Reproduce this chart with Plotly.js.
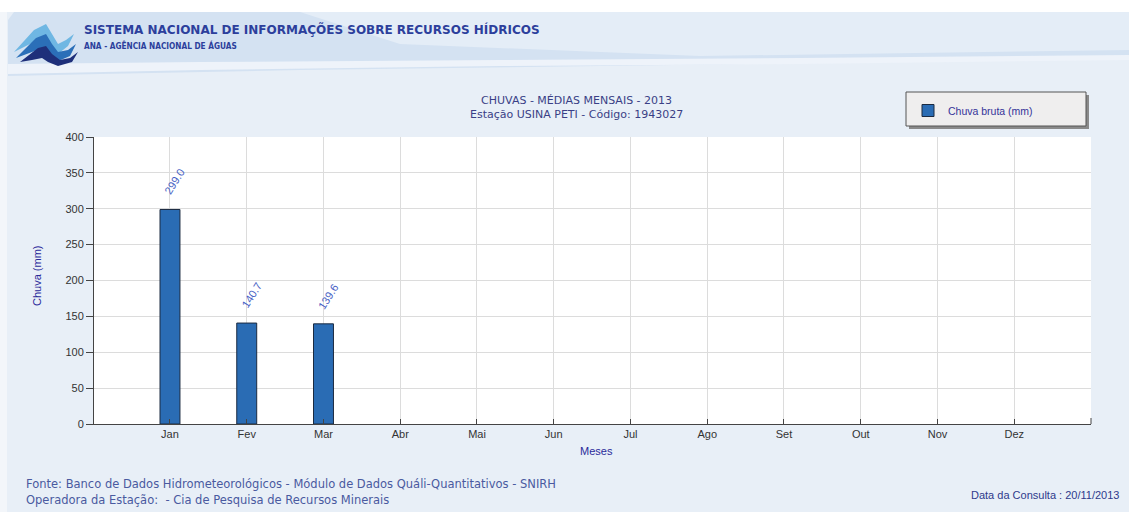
<!DOCTYPE html>
<html>
<head>
<meta charset="utf-8">
<script src="https://cdn.plot.ly/plotly-3.0.1.min.js"></script>
<style>html,body{margin:0;padding:0;background:#e8eff7;}#chart{width:1129px;height:512px;}</style>
</head>
<body>
<div id="chart"></div>
<script>
// ---- data ----
const months = ["Jan","Fev","Mar","Abr","Mai","Jun","Jul","Ago","Set","Out","Nov","Dez"];
const rainMonths = ["Jan","Fev","Mar"];
const rainValues = [299.0, 140.7, 139.6];
const yTicks = [0,50,100,150,200,250,300,350,400];
const seriesName = "Chuva bruta (mm)";
const chartTitle = "CHUVAS - MÉDIAS MENSAIS - 2013<br>Estação USINA PETI - Código: 1943027";
const headerLine1 = "SISTEMA NACIONAL DE INFORMAÇÕES SOBRE RECURSOS HÍDRICOS";
const headerLine2 = "ANA - AGÊNCIA NACIONAL DE ÁGUAS";
const footer1 = "Fonte: Banco de Dados Hidrometeorológicos - Módulo de Dados Quáli-Quantitativos - SNIRH";
const footer2 = "Operadora da Estação:  - Cia de Pesquisa de Recursos Minerais";
const consulta = "Data da Consulta : 20/11/2013";

// ---- layout helpers (pixel -> paper) ----
const W = 1129, H = 512, ML = 94, MR = 38, MT = 137, MB = 88;
const PW = W - ML - MR, PH = H - MT - MB;
const px = x => (x - ML) / PW;
const py = y => (H - MB - y) / PH;

const cond = "'DejaVu Sans Condensed', 'DejaVu Sans', sans-serif";
const dejavu = "'DejaVu Sans', sans-serif";
const narrow = "'Liberation Sans Narrow', 'Liberation Sans', Arial, sans-serif";

const trace = {
  type: "bar",
  x: rainMonths,
  y: rainValues,
  name: seriesName,
  width: 0.26,
  marker: {color: "#2a6cb4", line: {color: "#1b2a40", width: 1}},
  showlegend: true,
  hoverinfo: "x+y"
};

const labelAnn = rainMonths.map((m, i) => ({
  x: m, y: rainValues[i], xref: "x", yref: "y",
  text: rainValues[i].toFixed(1), showarrow: false,
  textangle: -58, xshift: 5, yshift: 28,
  font: {family: "'Liberation Sans', Arial, sans-serif", size: 11, color: "#4660c4"}
}));

const textAnn = [
  {text: headerLine1, x: px(82), y: py(30), xanchor: "left", yanchor: "middle",
   font: {family: dejavu, size: 12, color: "#2c3f9c", weight: 700}},
  {text: headerLine2, x: px(82), y: py(46), xanchor: "left", yanchor: "middle",
   font: {family: cond, size: 8.2, color: "#2c3f9c", weight: 700}},
  {text: chartTitle, x: px(576), y: py(108), xanchor: "center", yanchor: "middle",
   font: {family: dejavu, size: 11, color: "#3a3f86"}},
  {text: "Meses", x: px(596), y: py(451), xanchor: "center", yanchor: "middle",
   font: {family: narrow, size: 11, color: "#2a2a9a"}},
  {text: "Chuva (mm)", x: px(37), y: py(276), xanchor: "center", yanchor: "middle", textangle: -90,
   font: {family: narrow, size: 11, color: "#2a2a9a"}},
  {text: footer1, x: px(24), y: py(484), xanchor: "left", yanchor: "middle",
   font: {family: dejavu, size: 11.5, color: "#4a5aa0"}},
  {text: footer2, x: px(24), y: py(500), xanchor: "left", yanchor: "middle",
   font: {family: dejavu, size: 11.5, color: "#4a5aa0"}},
  {text: consulta, x: px(1121), y: py(495), xanchor: "right", yanchor: "middle",
   font: {family: "'Liberation Sans', Arial, sans-serif", size: 11, color: "#2e3a8c"}}
].map(a => Object.assign({xref: "paper", yref: "paper", showarrow: false}, a));

function rectP(x0, y0, x1, y1, fill, line, lw, layer) {
  return {type: "rect", xref: "paper", yref: "paper", x0: px(x0), x1: px(x1), y0: py(y1), y1: py(y0),
    fillcolor: fill, line: {color: line || "rgba(0,0,0,0)", width: lw || 0}, layer: layer || "below"};
}
function pathP(pts, fill) {
  const d = pts.map((p, i) => (i ? "L" : "M") + px(p[0]) + "," + py(p[1])).join(" ") + " Z";
  return {type: "path", xref: "paper", yref: "paper", path: d, fillcolor: fill, line: {width: 0}, layer: "below"};
}

const shapes = [
  // white strip on top, header banner
  rectP(0, 0, 1129, 12, "#ffffff"),
  pathP([[8,20],[14,12],[1129,12],[1129,58],[900,62],[600,66],[300,70],[100,74],[8,76]], "#d4e2f2"),
  pathP([[300,12],[1129,12],[1129,50],[700,56],[400,44]], "#e4edf7"),
  pathP([[8,64],[200,62],[500,60],[800,58],[1129,55],[1129,60],[800,64],[500,66],[200,70],[8,74]], "#eef3fa"),
  // left border strip
  rectP(0, 12, 7, 512, "#f3f6fa"),
  // logo waves
  pathP([[14,52],[34,30],[46,24],[52,34],[58,44],[66,40],[74,34],[68,46],[58,54],[50,46],[44,38],[34,42]], "#6fb7e3"),
  pathP([[16,58],[36,38],[46,34],[52,44],[58,52],[68,50],[76,44],[70,56],[56,62],[48,54],[42,48],[32,52]], "#2b6fb8"),
  pathP([[20,62],[38,48],[46,46],[52,54],[60,60],[70,58],[78,52],[72,62],[58,66],[48,62],[42,58],[32,60]], "#1e2f7a"),
  // x-axis end tick on the right
  {type: "line", xref: "paper", yref: "paper", x0: 1, x1: 1, y0: 0, y1: 6 / PH, line: {color: "#444", width: 1}},
  // legend box with shadow
  rectP(909, 95, 1089, 129, "#8a8a8a", null, 0, "above"),
  rectP(906, 92, 1086, 126, "#efeeee", "#555555", 1, "above")
];

const layout = {
  width: W, height: H,
  margin: {l: ML, r: MR, t: MT, b: MB, pad: 0},
  paper_bgcolor: "#e8eff7",
  plot_bgcolor: "#ffffff",
  xaxis: {
    type: "category", categoryorder: "array", categoryarray: months,
    range: [-0.99, 12],
    showgrid: true, gridcolor: "#dcdcdc", gridwidth: 1,
    showline: true, linecolor: "#444", linewidth: 1,
    ticks: "inside", ticklen: 5, tickcolor: "#444",
    tickfont: {family: narrow, size: 11, color: "#333"},
    zeroline: false, fixedrange: true
  },
  yaxis: {
    range: [0, 400], tickvals: yTicks, ticktext: yTicks.map(String),
    showgrid: true, gridcolor: "#dcdcdc", gridwidth: 1,
    showline: true, linecolor: "#444", linewidth: 1,
    ticks: "outside", ticklen: 7, tickcolor: "#444",
    tickfont: {family: narrow, size: 11, color: "#333"},
    zeroline: false, fixedrange: true
  },
  showlegend: true,
  legend: {
    x: px(908), y: py(96), xanchor: "left", yanchor: "top",
    bgcolor: "rgba(0,0,0,0)", borderwidth: 0,
    font: {family: "'Liberation Sans', Arial, sans-serif", size: 10.5, color: "#333399"}
  },
  annotations: labelAnn.concat(textAnn),
  shapes: shapes
};

Plotly.newPlot("chart", [trace], layout, {displayModeBar: false, staticPlot: true});
</script>
</body>
</html>
